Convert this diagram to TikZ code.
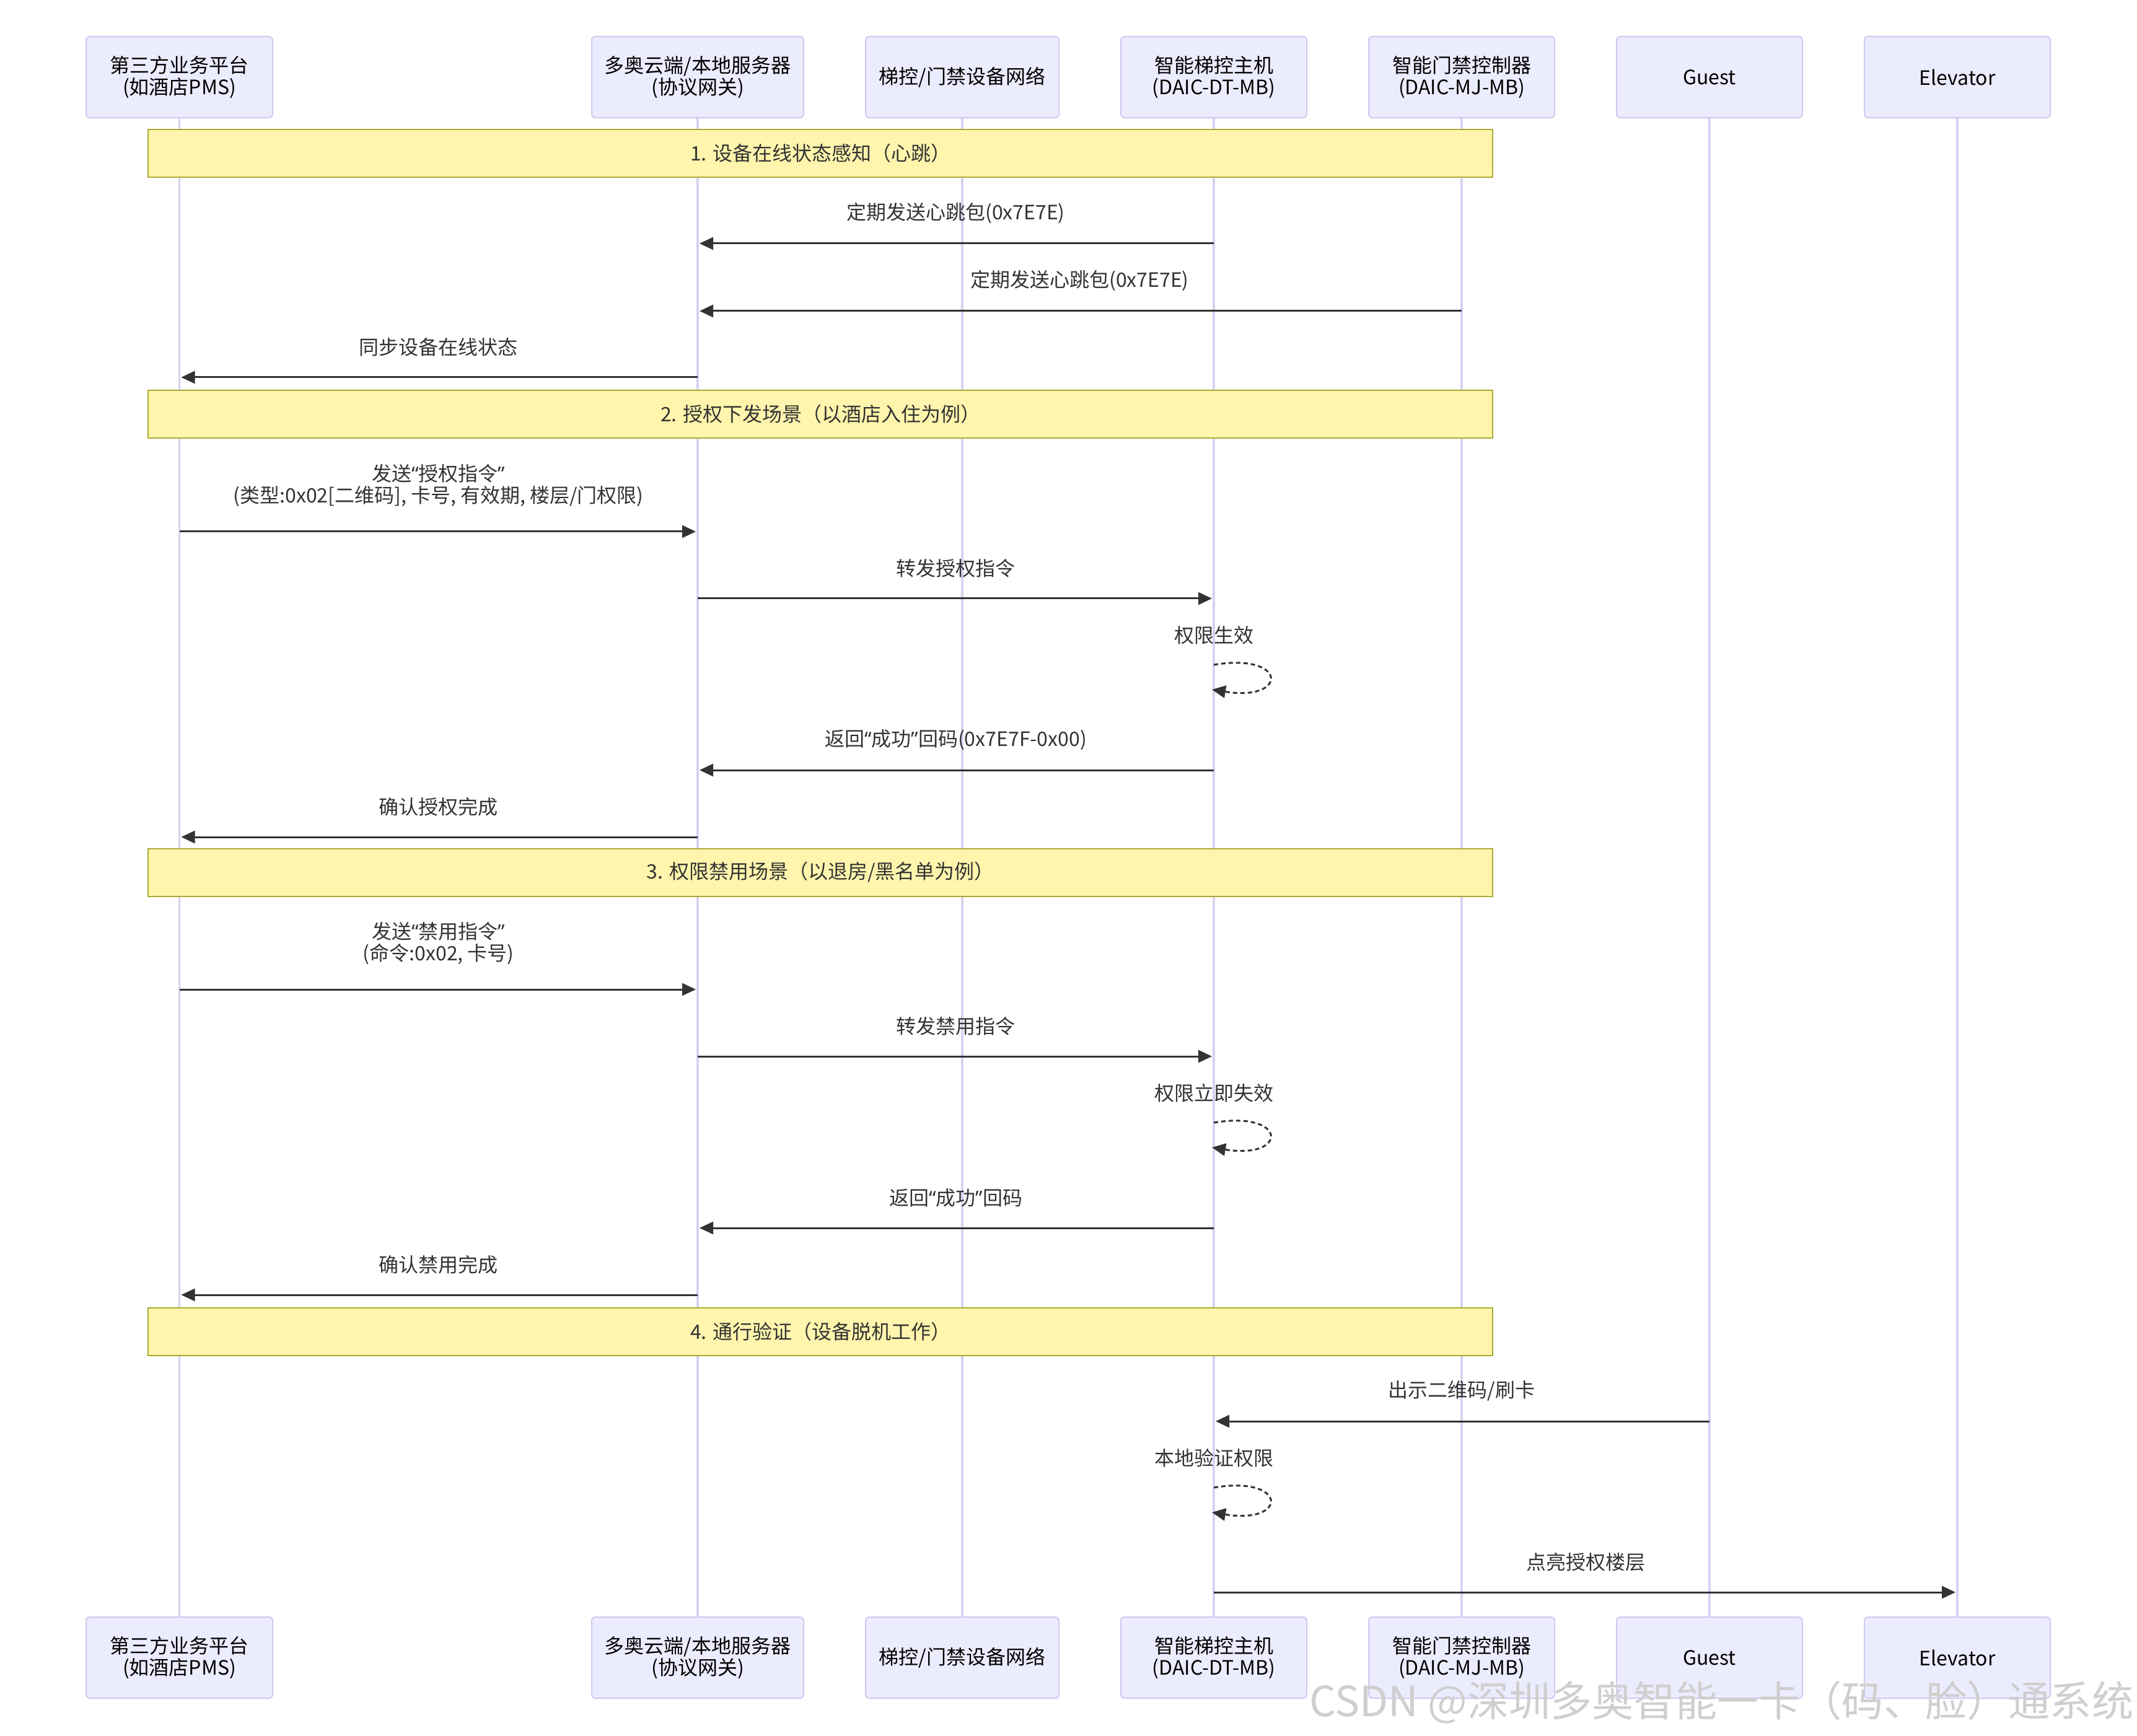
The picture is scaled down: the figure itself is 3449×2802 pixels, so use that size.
\documentclass[tikz,border=0pt]{standalone}
\usepackage{fontspec}
\setmainfont{Noto Sans CJK SC}
\newfontfamily\qfont{Noto Sans}
\newcommand\oqt{{\qfont “}}
\newcommand\cqt{{\qfont ”}}
\usetikzlibrary{arrows.meta}
\definecolor{actfill}{HTML}{ECECFF}
\definecolor{actdraw}{HTML}{D3C8F0}
\definecolor{lifecol}{HTML}{D9D0F3}
\definecolor{notefill}{HTML}{FFF5AD}
\definecolor{notedraw}{HTML}{AAAA33}
\definecolor{msgcol}{HTML}{333333}
\definecolor{wmcol}{HTML}{CFCFCF}
\begin{document}
\begin{tikzpicture}[x=0.25pt,y=-0.25pt,
  actor/.style={draw=actdraw,fill=actfill,line width=0.5pt,rounded corners=1.5pt,
    minimum height=32.75pt,inner sep=0pt,align=center,text=black,
    font=\fontsize{8pt}{8.75pt}\selectfont},
  notebox/.style={draw=notedraw,fill=notefill,line width=0.5pt,minimum width=542.4pt,
    minimum height=19.25pt,inner sep=0pt,align=center,text=msgcol,
    font=\fontsize{8pt}{8.75pt}\selectfont},
  lbl/.style={inner sep=0pt,align=center,text=msgcol,font=\fontsize{8pt}{8.75pt}\selectfont},
  life/.style={draw=lifecol,line width=0.8pt},
  msg/.style={draw=msgcol,line width=0.75pt,shorten >=0.75pt,
    -{Triangle[length=5.5pt,width=5pt]}},
  selfmsg/.style={draw=msgcol,line width=0.75pt,dash pattern=on 1.75pt off 1.25pt,
    -{Triangle[length=5.5pt,width=5pt]}},
  wm/.style={inner sep=0pt,text=wmcol,font=\fontsize{16.8pt}{19pt}\selectfont}
]
\useasboundingbox[fill=white] (0,0) rectangle (3449,2802);

% actors (top)
\node[actor,minimum width=75.25pt] (a1t) at (289.5,124.5) {第三方业务平台\\(如酒店PMS)};
\node[actor,minimum width=85.5pt] (a2t) at (1126,124.5) {多奥云端/本地服务器\\(协议网关)};
\node[actor,minimum width=78pt] (a3t) at (1553,124.5) {梯控/门禁设备网络};
\node[actor,minimum width=75pt] (a4t) at (1959,124.5) {智能梯控主机\\(DAIC-DT-MB)};
\node[actor,minimum width=75pt] (a5t) at (2359,124.5) {智能门禁控制器\\(DAIC-MJ-MB)};
\node[actor,minimum width=75pt] (a6t) at (2759,124.5) {Guest};
\node[actor,minimum width=75pt] (a7t) at (3159,124.5) {Elevator};
% actors (bottom)
\node[actor,minimum width=75.25pt] (a1b) at (289.5,2675.5) {第三方业务平台\\(如酒店PMS)};
\node[actor,minimum width=85.5pt] (a2b) at (1126,2675.5) {多奥云端/本地服务器\\(协议网关)};
\node[actor,minimum width=78pt] (a3b) at (1553,2675.5) {梯控/门禁设备网络};
\node[actor,minimum width=75pt] (a4b) at (1959,2675.5) {智能梯控主机\\(DAIC-DT-MB)};
\node[actor,minimum width=75pt] (a5b) at (2359,2675.5) {智能门禁控制器\\(DAIC-MJ-MB)};
\node[actor,minimum width=75pt] (a6b) at (2759,2675.5) {Guest};
\node[actor,minimum width=75pt] (a7b) at (3159,2675.5) {Elevator};

% lifelines
\foreach \i in {1,...,7} {\draw[life] (a\i t.south) -- (a\i b.north);}

% notes
\node[notebox] (n1) at (1324.25,247.5) {1. 设备在线状态感知（心跳）};
\node[notebox] (n2) at (1324.25,668.5) {2. 授权下发场景（以酒店入住为例）};
\node[notebox] (n3) at (1324.25,1408) {3. 权限禁用场景（以退房/黑名单为例）};
\node[notebox] (n4) at (1324.25,2149.5) {4. 通行验证（设备脱机工作）};

% section 1
\coordinate (m1a) at (1959,393); \coordinate (m1b) at (1126,393);
\draw[msg] (m1a) -- (m1b);
\node[lbl] (m1l) at (1542.5,344) {定期发送心跳包(0x7E7E)};
\coordinate (m2a) at (2359,502); \coordinate (m2b) at (1126,502);
\draw[msg] (m2a) -- (m2b);
\node[lbl] (m2l) at (1742.5,453) {定期发送心跳包(0x7E7E)};
\coordinate (m3a) at (1126,609); \coordinate (m3b) at (289.5,609);
\draw[msg] (m3a) -- (m3b);
\node[lbl] (m3l) at (707.75,560) {同步设备在线状态};

% section 2
\coordinate (m4a) at (289.5,858); \coordinate (m4b) at (1126,858);
\draw[msg] (m4a) -- (m4b);
\node[lbl] (m4l) at (707.75,783.5) {发送\oqt 授权指令\cqt\\(类型:0x02[二维码], 卡号, 有效期, 楼层/门权限)};
\coordinate (m5a) at (1126,966); \coordinate (m5b) at (1959,966);
\draw[msg] (m5a) -- (m5b);
\node[lbl] (m5l) at (1542.5,917) {转发授权指令};
\coordinate (s1a) at (1959,1073); \coordinate (s1b) at (1956,1113);
\draw[selfmsg] (s1a) .. controls (2079,1053) and (2079,1133) .. (s1b);
\node[lbl] (s1l) at (1959,1025) {权限生效};
\coordinate (m6a) at (1959,1243); \coordinate (m6b) at (1126,1243);
\draw[msg] (m6a) -- (m6b);
\node[lbl] (m6l) at (1542.5,1194) {返回\oqt 成功\cqt 回码(0x7E7F-0x00)};
\coordinate (m7a) at (1126,1351); \coordinate (m7b) at (289.5,1351);
\draw[msg] (m7a) -- (m7b);
\node[lbl] (m7l) at (707.75,1302) {确认授权完成};

% section 3
\coordinate (m8a) at (289.5,1597); \coordinate (m8b) at (1126,1597);
\draw[msg] (m8a) -- (m8b);
\node[lbl] (m8l) at (707.75,1522.5) {发送\oqt 禁用指令\cqt\\(命令:0x02, 卡号)};
\coordinate (m9a) at (1126,1705); \coordinate (m9b) at (1959,1705);
\draw[msg] (m9a) -- (m9b);
\node[lbl] (m9l) at (1542.5,1656) {转发禁用指令};
\coordinate (s2a) at (1959,1812); \coordinate (s2b) at (1956,1852);
\draw[selfmsg] (s2a) .. controls (2079,1792) and (2079,1872) .. (s2b);
\node[lbl] (s2l) at (1959,1764) {权限立即失效};
\coordinate (m10a) at (1959,1982); \coordinate (m10b) at (1126,1982);
\draw[msg] (m10a) -- (m10b);
\node[lbl] (m10l) at (1542.5,1933) {返回\oqt 成功\cqt 回码};
\coordinate (m11a) at (1126,2090); \coordinate (m11b) at (289.5,2090);
\draw[msg] (m11a) -- (m11b);
\node[lbl] (m11l) at (707.75,2041) {确认禁用完成};

% section 4
\coordinate (m12a) at (2759,2294); \coordinate (m12b) at (1959,2294);
\draw[msg] (m12a) -- (m12b);
\node[lbl] (m12l) at (2359,2245) {出示二维码/刷卡};
\coordinate (s3a) at (1959,2401); \coordinate (s3b) at (1956,2441);
\draw[selfmsg] (s3a) .. controls (2079,2381) and (2079,2461) .. (s3b);
\node[lbl] (s3l) at (1959,2353) {本地验证权限};
\coordinate (m13a) at (1959,2570); \coordinate (m13b) at (3159,2570);
\draw[msg] (m13a) -- (m13b);
\node[lbl] (m13l) at (2559,2521) {点亮授权楼层};

% watermark
\node[wm,anchor=east] (wmk) at (3444,2748) {CSDN @深圳多奥智能一卡（码、脸）通系统};
\end{tikzpicture}
\end{document}
